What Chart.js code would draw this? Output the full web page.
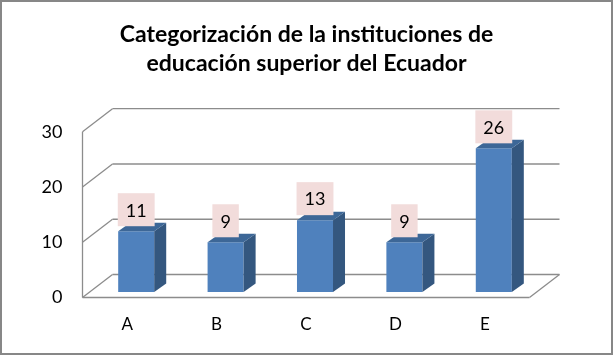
<!DOCTYPE html>
<html>
<head>
<meta charset="utf-8">
<script src="https://cdn.jsdelivr.net/npm/chart.js@4/dist/chart.umd.min.js"></script>
<style>
  html, body { margin: 0; padding: 0; background: #ffffff; }
  #wrap { width: 613px; height: 355px; }
</style>
</head>
<body>
<div id="wrap"><canvas id="c" width="613" height="355"></canvas></div>
<script>
// ---- data ----
const categories = ["A", "B", "C", "D", "E"];
const values = [11, 9, 13, 9, 26];
const yTicks = [0, 10, 20, 30];
const titleLines = ["Categorización de la instituciones de", "educación superior del Ecuador"];

const FONT = "Lato, 'Open Sans', sans-serif";

// 3D depth offsets relative to the bar plane (the Chart.js chart area)
const FRONT = { dx: -9, dy: 5.5 };
const BACK = { dx: 21, dy: -17.5 };
const BAR_DEPTH = { dx: 12, dy: -8.5 };

const threeD = {
  id: 'threeD',
  beforeDraw(chart) {
    const ctx = chart.ctx;
    ctx.save();
    ctx.fillStyle = '#ffffff';
    ctx.fillRect(0, 0, chart.width, chart.height);
    ctx.restore();
  },
  beforeDatasetsDraw(chart) {
    const ctx = chart.ctx;
    const xs = chart.scales.x, ys = chart.scales.y;
    const L = xs.left, R = xs.right;
    ctx.save();
    ctx.strokeStyle = '#8c8c8c';
    ctx.lineWidth = 1.3;
    const line = (x1, y1, x2, y2) => { ctx.beginPath(); ctx.moveTo(x1, y1); ctx.lineTo(x2, y2); ctx.stroke(); };
    yTicks.forEach(v => {
      const y = ys.getPixelForValue(v);
      line(L + BACK.dx, y + BACK.dy, R + BACK.dx, y + BACK.dy);
      line(L + FRONT.dx, y + FRONT.dy, L + BACK.dx, y + BACK.dy);
    });
    const y0 = ys.getPixelForValue(yTicks[0]);
    const yTop = ys.getPixelForValue(yTicks[yTicks.length - 1]);
    line(L + FRONT.dx, y0 + FRONT.dy, L + FRONT.dx, yTop + FRONT.dy);
    line(L + FRONT.dx, y0 + FRONT.dy, R + FRONT.dx, y0 + FRONT.dy);
    line(R + FRONT.dx, y0 + FRONT.dy, R + BACK.dx, y0 + BACK.dy);
    ctx.restore();
  },
  afterDatasetsDraw(chart) {
    const ctx = chart.ctx;
    const meta = chart.getDatasetMeta(0);
    ctx.save();
    meta.data.forEach((bar, i) => {
      const p = bar.getProps(['x', 'y', 'base', 'width'], true);
      const l = p.x - p.width / 2, r = p.x + p.width / 2;
      // side face
      ctx.fillStyle = '#34577f';
      ctx.beginPath();
      ctx.moveTo(r, p.y);
      ctx.lineTo(r + BAR_DEPTH.dx, p.y + BAR_DEPTH.dy);
      ctx.lineTo(r + BAR_DEPTH.dx, p.base + BAR_DEPTH.dy);
      ctx.lineTo(r, p.base);
      ctx.closePath();
      ctx.fill();
      // top face
      ctx.fillStyle = '#3d6797';
      ctx.beginPath();
      ctx.moveTo(l, p.y);
      ctx.lineTo(l + BAR_DEPTH.dx, p.y + BAR_DEPTH.dy);
      ctx.lineTo(r + BAR_DEPTH.dx, p.y + BAR_DEPTH.dy);
      ctx.lineTo(r, p.y);
      ctx.closePath();
      ctx.fill();
    });
    // data labels
    ctx.font = "18px " + FONT;
    ctx.textAlign = 'center';
    ctx.textBaseline = 'middle';
    meta.data.forEach((bar, i) => {
      const p = bar.getProps(['x', 'y'], true);
      const txt = String(values[i]);
      const w = ctx.measureText(txt).width + 16;
      const h = 33;
      const bottom = p.y - 5;
      ctx.fillStyle = '#f2dcdb';
      ctx.fillRect(p.x - w / 2, bottom - h, w, h);
      ctx.fillStyle = '#000000';
      ctx.fillText(txt, p.x, bottom - h / 2 + 1);
    });
    ctx.restore();
  },
  afterDraw(chart) {
    const ctx = chart.ctx;
    ctx.save();
    ctx.strokeStyle = '#878787';
    ctx.lineWidth = 2;
    ctx.strokeRect(1, 1, chart.width - 2, chart.height - 2);
    ctx.restore();
  }
};

new Chart(document.getElementById('c'), {
  type: 'bar',
  data: {
    labels: categories,
    datasets: [{
      data: values,
      backgroundColor: '#4f81bd',
      borderWidth: 0,
      categoryPercentage: 1,
      barPercentage: 0.403
    }]
  },
  options: {
    responsive: false,
    devicePixelRatio: 1,
    animation: false,
    events: [],
    layout: { padding: { left: 0, right: 0, top: 0, bottom: 0 } },
    plugins: {
      legend: { display: false },
      tooltip: { enabled: false },
      title: {
        display: true,
        text: titleLines,
        color: '#000000',
        font: { family: FONT, size: 23, weight: 'bold', lineHeight: 1.22 },
        padding: { top: 21, bottom: 49.1 }
      }
    },
    scales: {
      x: {
        grid: { display: false, drawTicks: false },
        border: { display: false },
        ticks: { color: '#000000', font: { family: FONT, size: 17 }, padding: 22, labelOffset: FRONT.dx },
        afterFit: s => { s.height = 63; }
      },
      y: {
        min: 0, max: 30,
        grid: { display: false, drawTicks: false },
        border: { display: false },
        ticks: { stepSize: 10, color: '#000000', font: { family: FONT, size: 18 }, padding: 29, labelOffset: FRONT.dy },
        afterFit: s => { s.width = 91.5; }
      },
      spacer: {
        type: 'linear',
        position: 'right',
        display: true,
        grid: { display: false, drawTicks: false },
        border: { display: false },
        ticks: { display: false },
        afterFit: s => { s.width = 74.5; }
      }
    }
  },
  plugins: [threeD]
});
</script>
</body>
</html>
